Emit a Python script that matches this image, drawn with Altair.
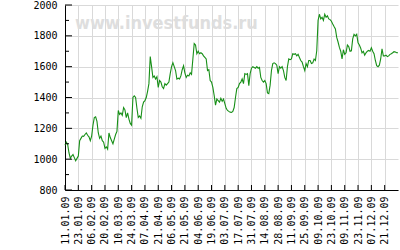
import altair as alt
import pandas as pd

date_labels = [
    "11.01.09", "23.01.09", "06.02.09", "20.02.09", "10.03.09", "24.03.09",
    "07.04.09", "21.04.09", "06.05.09", "21.05.09", "04.06.09", "19.06.09",
    "03.07.09", "17.07.09", "31.07.09", "14.08.09", "28.08.09", "11.09.09",
    "25.09.09", "09.10.09", "23.10.09", "09.11.09", "23.11.09", "07.12.09",
    "21.12.09",
]

values = [
    1090, 1110, 1095, 1040, 1006, 1020, 1030, 1010, 990, 1005,
    1020, 1120, 1135, 1150, 1148, 1160, 1170, 1155, 1145, 1120,
    1150, 1220, 1270, 1275, 1245, 1170, 1135, 1150, 1120, 1110,
    1070, 1080, 1065, 1170, 1140, 1120, 1100, 1130, 1160, 1180,
    1316, 1290, 1300, 1284, 1335, 1320, 1270, 1300, 1260, 1232,
    1220, 1400, 1410, 1400, 1330, 1270, 1280, 1265, 1340, 1370,
    1380, 1400, 1440, 1490, 1665, 1600, 1530, 1540, 1520, 1535,
    1465, 1510, 1500, 1470, 1458, 1490, 1480, 1490, 1500, 1555,
    1600, 1626, 1600, 1575, 1520, 1525, 1520, 1540, 1580, 1606,
    1560, 1530, 1545, 1540, 1560, 1550, 1650, 1750, 1740, 1684,
    1700, 1684, 1690, 1684, 1670, 1660, 1650, 1575, 1580, 1510,
    1500, 1465, 1413, 1350, 1390, 1380, 1370, 1395, 1375, 1390,
    1360, 1330, 1316, 1310, 1305, 1303, 1310, 1335, 1400, 1458,
    1465, 1490, 1500, 1520, 1490, 1555, 1550, 1555, 1477, 1555,
    1590, 1600, 1595, 1590, 1600, 1590, 1595, 1530, 1510, 1500,
    1510, 1490, 1430, 1425, 1480, 1575, 1620, 1625, 1620, 1610,
    1555, 1600, 1590, 1600, 1575, 1530, 1510, 1600, 1650, 1645,
    1650, 1684, 1680, 1684, 1670, 1680, 1660, 1640, 1630, 1600,
    1575, 1620, 1600, 1640, 1640, 1620, 1625, 1650, 1640, 1703,
    1900, 1940, 1910, 1920, 1900, 1940, 1920, 1930, 1910, 1905,
    1895, 1877, 1860, 1845, 1790, 1760, 1725, 1700, 1650, 1710,
    1680, 1690, 1740, 1730, 1700, 1703, 1780, 1810, 1800, 1810,
    1755, 1740, 1720, 1690, 1700, 1675, 1690, 1700, 1705, 1700,
    1723, 1700, 1684, 1640, 1606, 1600, 1610, 1650, 1716, 1670,
    1670, 1675, 1665, 1670, 1680, 1684, 1690, 1697, 1695, 1690,
    1690,
]

y_major = [800, 1000, 1200, 1400, 1600, 1800, 2000]
y_minor = [900, 1100, 1300, 1500, 1700, 1900]
x_ticks = list(range(0, 250, 10))
watermark = ["www.investfunds.ru"]

df = pd.DataFrame({"i": list(range(len(values))), "v": values})

x_scale = alt.Scale(domain=[0, 250], nice=False, zero=False)
y_scale = alt.Scale(domain=[800, 2000], nice=False, zero=False)

label_js = "[" + ",".join(f"'{d}'" for d in date_labels) + "]"

x_axis = alt.Axis(
    values=x_ticks,
    labelExpr=f"{label_js}[round(datum.value/10)]",
    labelAngle=270,
    labelFont="DejaVu Sans Mono",
    labelFontSize=10,
    labelColor="black",
    ticks=False,
    domainColor="black",
    gridColor="#d9d9d9",
    labelPadding=6,
    labelOverlap=False,
    labelBound=False,
    labelFlush=False,
    title=None,
)
y_axis = alt.Axis(
    values=y_major,
    labelFont="DejaVu Sans Mono",
    labelFontSize=10,
    labelColor="black",
    ticks=False,
    domainColor="black",
    gridColor="#d9d9d9",
    labelPadding=8,
    labelOverlap=False,
    labelFlush=False,
    format="d",
    title=None,
)

wm = alt.Chart(pd.DataFrame({"t": watermark})).mark_text(
    align="left", baseline="alphabetic", font="Liberation Sans Narrow, DejaVu Sans Condensed, sans-serif",
    fontWeight="bold", fontSize=18, color="#dedede"
).encode(text="t:N", x=alt.value(10), y=alt.value(24))

line = alt.Chart(df).mark_line(color="#178f17", strokeWidth=1.1).encode(
    x=alt.X("i:Q", scale=x_scale, axis=x_axis),
    y=alt.Y("v:Q", scale=y_scale, axis=y_axis),
)

maj = alt.Chart(pd.DataFrame({"v": y_major})).mark_rule(color="black").encode(
    y=alt.Y("v:Q", scale=y_scale, axis=y_axis), x=alt.value(0), x2=alt.value(7)
)
mnr = alt.Chart(pd.DataFrame({"v": y_minor})).mark_rule(color="black").encode(
    y=alt.Y("v:Q", scale=y_scale, axis=y_axis), x=alt.value(0), x2=alt.value(4)
)
btm = alt.Chart(pd.DataFrame({"i": x_ticks})).mark_rule(color="black").encode(
    x=alt.X("i:Q", scale=x_scale, axis=x_axis), y=alt.value(185), y2=alt.value(180)
)

chart = alt.layer(wm, line, maj, mnr, btm).properties(
    width=333, height=185,
    autosize=alt.AutoSizeParams(type="none"),
    padding={"left": 65, "top": 5, "right": 2, "bottom": 60},
    background="white",
).configure_view(stroke=None).configure_axis(labelOverlap=False)

chart.save("out.html", embed_options={"renderer": "svg", "actions": False})
